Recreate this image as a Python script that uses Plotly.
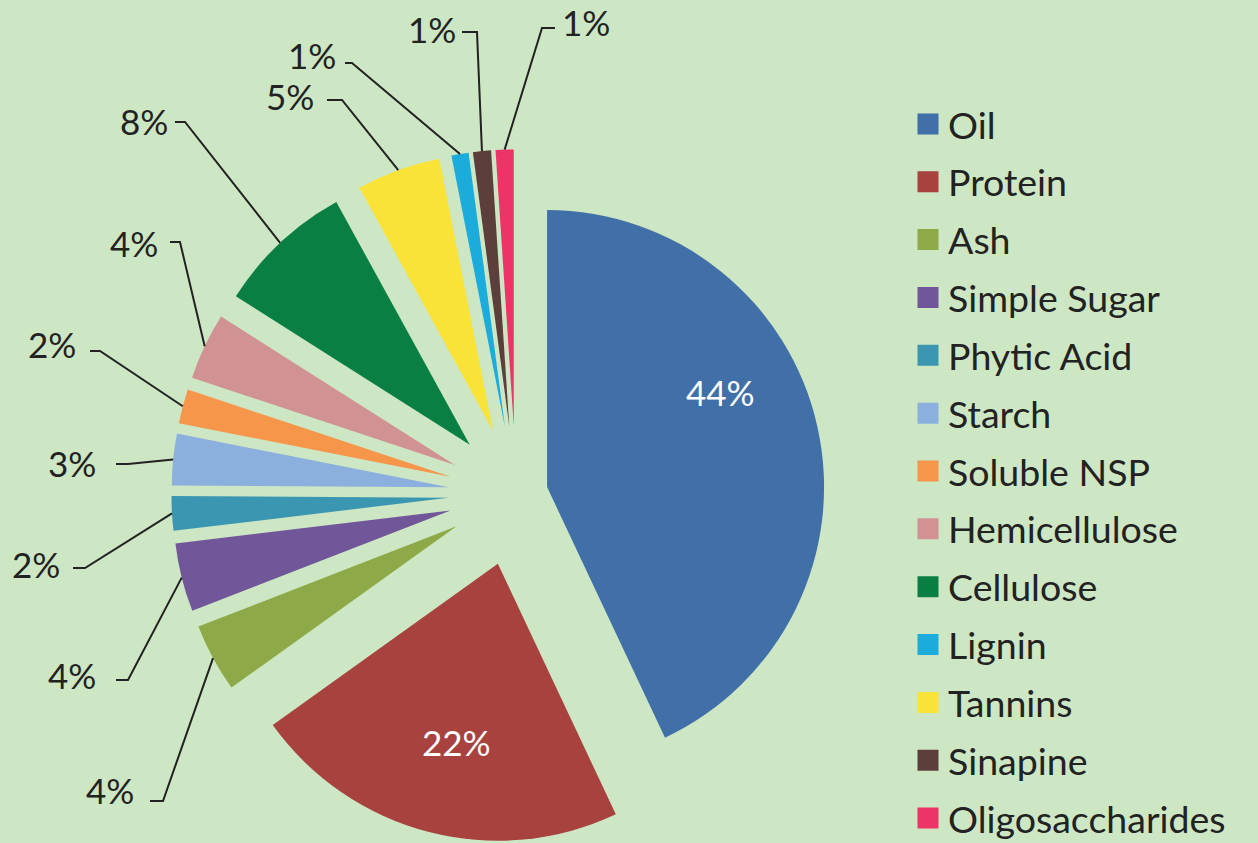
import math
import plotly.graph_objects as go

# ---------------- data ----------------
categories = ["Oil", "Protein", "Ash", "Simple Sugar", "Phytic Acid", "Starch",
              "Soluble NSP", "Hemicellulose", "Cellulose", "Tannins", "Lignin",
              "Sinapine", "Oligosaccharides"]
values = [43.0, 22.1, 4.0, 4.0, 2.0, 3.0, 2.0, 3.9, 8.0, 4.9, 1.0, 1.05, 1.05]
pct_labels = ["44%", "22%", "4%", "4%", "2%", "3%", "2%", "4%", "8%", "5%", "1%", "1%", "1%"]
legend_order = ["Oil", "Protein", "Ash", "Simple Sugar", "Phytic Acid", "Starch",
                "Soluble NSP", "Hemicellulose", "Cellulose", "Lignin", "Tannins",
                "Sinapine", "Oligosaccharides"]

# ---------------- style ----------------
colors = {
    "Oil": "#4170a9", "Protein": "#a8423f", "Ash": "#8eaa48", "Simple Sugar": "#71569a",
    "Phytic Acid": "#3b97b1", "Starch": "#8cb0de", "Soluble NSP": "#f5964a",
    "Hemicellulose": "#d09292", "Cellulose": "#0a7f43", "Lignin": "#1cacdc",
    "Tannins": "#f9e337", "Sinapine": "#5c3f3a", "Oligosaccharides": "#ec3566",
}
pulls = [0.115, 0.26, 0.244, 0.244, 0.244, 0.244, 0.244, 0.244, 0.244, 0.244, 0.244, 0.244, 0.244]
BG = "#cde6c4"
TXT = "#222222"
FONT = "Lato"

W, H = 1258, 843
CX, CY = 516, 494          # pie centre in pixels
HALF = H - CY              # half size of the pie domain

# label layout (pixels): text anchor x, text centre y, anchor side, horizontal tick (x0, x1, y)
label_layout = [
    dict(inside=True, x=720, y=392),
    dict(inside=True, x=456, y=742),
    dict(x=136, y=790, side="right", tick=(150, 163, 801)),
    dict(x=98, y=675, side="right", tick=(116, 128, 680)),
    dict(x=62, y=564, side="right", tick=(73, 85, 568)),
    dict(x=98, y=463, side="right", tick=(116, 128, 464)),
    dict(x=78, y=344, side="right", tick=(90, 100, 351)),
    dict(x=160, y=243, side="right", tick=(170, 180, 242)),
    dict(x=170, y=121, side="right", tick=(175, 185, 122)),
    dict(x=316, y=96, side="right", tick=(327, 342, 100)),
    dict(x=338, y=55, side="right", tick=(345, 352, 63)),
    dict(x=458, y=29, side="right", tick=(462, 477, 32)),
    dict(x=560, y=22, side="left", tick=(555, 542, 28)),
]

# ---------------- geometry (same rules plotly uses) ----------------
dom_x = [(CX - HALF) / W, (CX + HALF) / W]
dom_y = [0.0, 2 * HALF / H]
r = HALF / (1 + max(pulls))
total = sum(values)


def px2paper(x, y):
    return x / W, 1 - y / H


fig = go.Figure()
fig.add_trace(go.Pie(
    labels=categories, values=values, sort=False, direction="clockwise", rotation=0,
    pull=pulls, marker=dict(colors=[colors[c] for c in categories], line=dict(width=0)),
    textinfo="none", hoverinfo="label+percent", showlegend=False,
    domain=dict(x=dom_x, y=dom_y),
))

# legend entries in the original legend order
for name in legend_order:
    fig.add_trace(go.Scatter(
        x=[None], y=[None], mode="markers", name=name, legendgroup=name,
        marker=dict(symbol="square", size=16, color=colors[name],
                    line=dict(color=colors[name], width=5)),
        hoverinfo="skip",
    ))

shapes = []
annotations = []
cum = 0.0
for i, (cat, v) in enumerate(zip(categories, values)):
    mid = (cum + v / 2) / total * 2 * math.pi
    cum += v
    lay = label_layout[i]
    if lay.get("inside"):
        ax, ay = px2paper(lay["x"], lay["y"])
        annotations.append(dict(x=ax, y=ay, xref="paper", yref="paper", text=pct_labels[i],
                                showarrow=False, xanchor="center", yanchor="middle",
                                font=dict(family=FONT, size=35, color="white")))
        continue
    d = (1 + pulls[i]) * r
    sx = CX + d * math.sin(mid)
    sy = CY - d * math.cos(mid)
    x0, x1, ty = lay["tick"]
    pts = [px2paper(x0, ty), px2paper(x1, ty), px2paper(sx, sy)]
    path = "M " + " L ".join(f"{px:.5f},{py:.5f}" for px, py in pts)
    shapes.append(dict(type="path", xref="paper", yref="paper", path=path,
                       line=dict(color=TXT, width=2), layer="above"))
    ax, ay = px2paper(lay["x"], lay["y"])
    annotations.append(dict(x=ax, y=ay, xref="paper", yref="paper", text=pct_labels[i],
                            showarrow=False, xanchor=lay["side"], yanchor="middle",
                            font=dict(family=FONT, size=35, color=TXT)))

fig.update_layout(
    width=W, height=H, autosize=False,
    margin=dict(l=0, r=0, t=0, b=0, pad=0, autoexpand=False),
    paper_bgcolor=BG, plot_bgcolor=BG,
    xaxis=dict(visible=False), yaxis=dict(visible=False),
    showlegend=True,
    legend=dict(x=908 / W, y=1 - 93 / H, xanchor="left", yanchor="top",
                traceorder="grouped", tracegroupgap=6.1, bgcolor="rgba(0,0,0,0)",
                font=dict(family=FONT, size=37.5, color=TXT), itemsizing="trace"),
    shapes=shapes, annotations=annotations,
)

fig.write_html("out.html", config={"displayModeBar": False},
               post_script="document.body.style.margin='0';document.body.style.overflow='hidden';")
